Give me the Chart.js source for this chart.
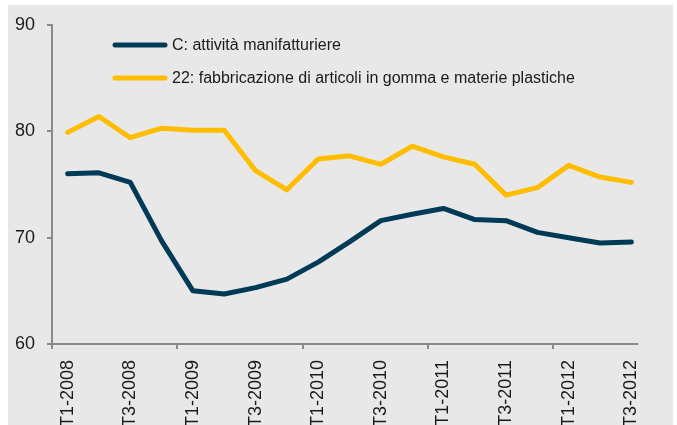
<!DOCTYPE html>
<html>
<head>
<meta charset="utf-8">
<script src="https://cdn.jsdelivr.net/npm/chart.js@4.4.1/dist/chart.umd.min.js"></script>
<style>
  html, body { margin: 0; padding: 0; background: #ffffff; overflow: hidden; }
  #wrap { position: relative; width: 677px; height: 425px; }
  #bg { position: absolute; left: 8px; top: 5px; width: 665px; height: 420px; background: #e8e8e8; }
  #c { position: absolute; left: 0; top: 0; }
</style>
</head>
<body>
<div id="wrap">
  <div id="bg"></div>
  <canvas id="c" width="677" height="425"></canvas>
</div>
<script>
const categories = [
  "T1-2008","T2-2008","T3-2008","T4-2008",
  "T1-2009","T2-2009","T3-2009","T4-2009",
  "T1-2010","T2-2010","T3-2010","T4-2010",
  "T1-2011","T2-2011","T3-2011","T4-2011",
  "T1-2012","T2-2012","T3-2012"
];
const manifatturiere = [76.0, 76.1, 75.2, 69.7, 65.0, 64.7, 65.3, 66.1, 67.7, 69.6, 71.6, 72.2, 72.75, 71.7, 71.6, 70.5, 70.0, 69.5, 69.6];
const gommaPlastica = [79.9, 81.4, 79.4, 80.3, 80.1, 80.1, 76.3, 74.5, 77.4, 77.7, 76.9, 78.6, 77.6, 76.9, 74.0, 74.7, 76.8, 75.7, 75.2];
const yTicks = [60, 70, 80, 90];
const seriesLabels = ["C: attività manifatturiere", "22: fabbricazione di articoli in gomma e materie plastiche"];

const NAVY = "#003a56";
const YELLOW = "#ffbd00";
const AXIS = "#8a8a8a";
const TEXT = "#1a1a1a";
const FONT = "'Liberation Sans', Arial, Helvetica, sans-serif";

const legendPlugin = {
  id: "innerLegend",
  afterDraw(chart) {
    const ctx = chart.ctx;
    ctx.save();
    chart.data.datasets.forEach((ds, i) => {
      const y = 45 + i * 33;
      ctx.strokeStyle = ds.borderColor;
      ctx.lineWidth = 5;
      ctx.lineCap = "round";
      ctx.beginPath();
      ctx.moveTo(115, y);
      ctx.lineTo(165, y);
      ctx.stroke();
      ctx.fillStyle = TEXT;
      ctx.font = "16px " + FONT;
      ctx.textBaseline = "middle";
      ctx.textAlign = "left";
      ctx.fillText(ds.label, 172, y + 1);
    });
    ctx.restore();
  }
};

const xAxisLinePlugin = {
  id: "xAxisLine",
  afterDatasetsDraw(chart) {
    const xs = chart.scales.x;
    const area = chart.chartArea;
    const ctx = chart.ctx;
    const end = xs.getPixelForValue(categories.length - 1) + 7;
    ctx.save();
    ctx.strokeStyle = AXIS;
    ctx.lineWidth = 2;
    ctx.beginPath();
    ctx.moveTo(area.left - 1, area.bottom);
    ctx.lineTo(end, area.bottom);
    ctx.stroke();
    ctx.restore();
  }
};

new Chart(document.getElementById("c"), {
  type: "line",
  data: {
    labels: categories,
    datasets: [
      { label: seriesLabels[0], data: manifatturiere, borderColor: NAVY, backgroundColor: NAVY,
        borderWidth: 5, pointRadius: 0, tension: 0, borderJoinStyle: "round", borderCapStyle: "round" },
      { label: seriesLabels[1], data: gommaPlastica, borderColor: YELLOW, backgroundColor: YELLOW,
        borderWidth: 5, pointRadius: 0, tension: 0, borderJoinStyle: "round", borderCapStyle: "round" }
    ]
  },
  options: {
    responsive: false,
    animation: false,
    events: [],
    layout: { padding: { top: 25, right: 30, left: 0, bottom: 0 } },
    plugins: { legend: { display: false }, tooltip: { enabled: false } },
    scales: {
      x: {
        offset: true,
        border: { display: false },
        grid: {
          offset: true,
          drawOnChartArea: false,
          drawTicks: true,
          tickLength: 5,
          lineWidth: 2,
          color: (c) => (c.index % 4 === 0 && c.index < categories.length) ? AXIS : "rgba(0,0,0,0)"
        },
        ticks: {
          autoSkip: false,
          maxRotation: 90,
          minRotation: 90,
          padding: 11,
          color: TEXT,
          font: { family: FONT, size: 18 },
          callback: function (v, i) { return i % 2 === 0 ? categories[i] : ""; }
        },
        afterFit(scale) { scale.height = 81; }
      },
      y: {
        min: 60,
        max: 90,
        afterBuildTicks(scale) { scale.ticks = yTicks.map(v => ({ value: v })); },
        border: { display: true, color: AXIS, width: 2 },
        grid: { drawOnChartArea: false, drawTicks: true, tickLength: 5, color: AXIS, lineWidth: 2 },
        ticks: {
          padding: 12,
          color: TEXT,
          font: { family: FONT, size: 18 }
        },
        afterFit(scale) { scale.width = 52; }
      }
    }
  },
  plugins: [legendPlugin, xAxisLinePlugin]
});
</script>
</body>
</html>
